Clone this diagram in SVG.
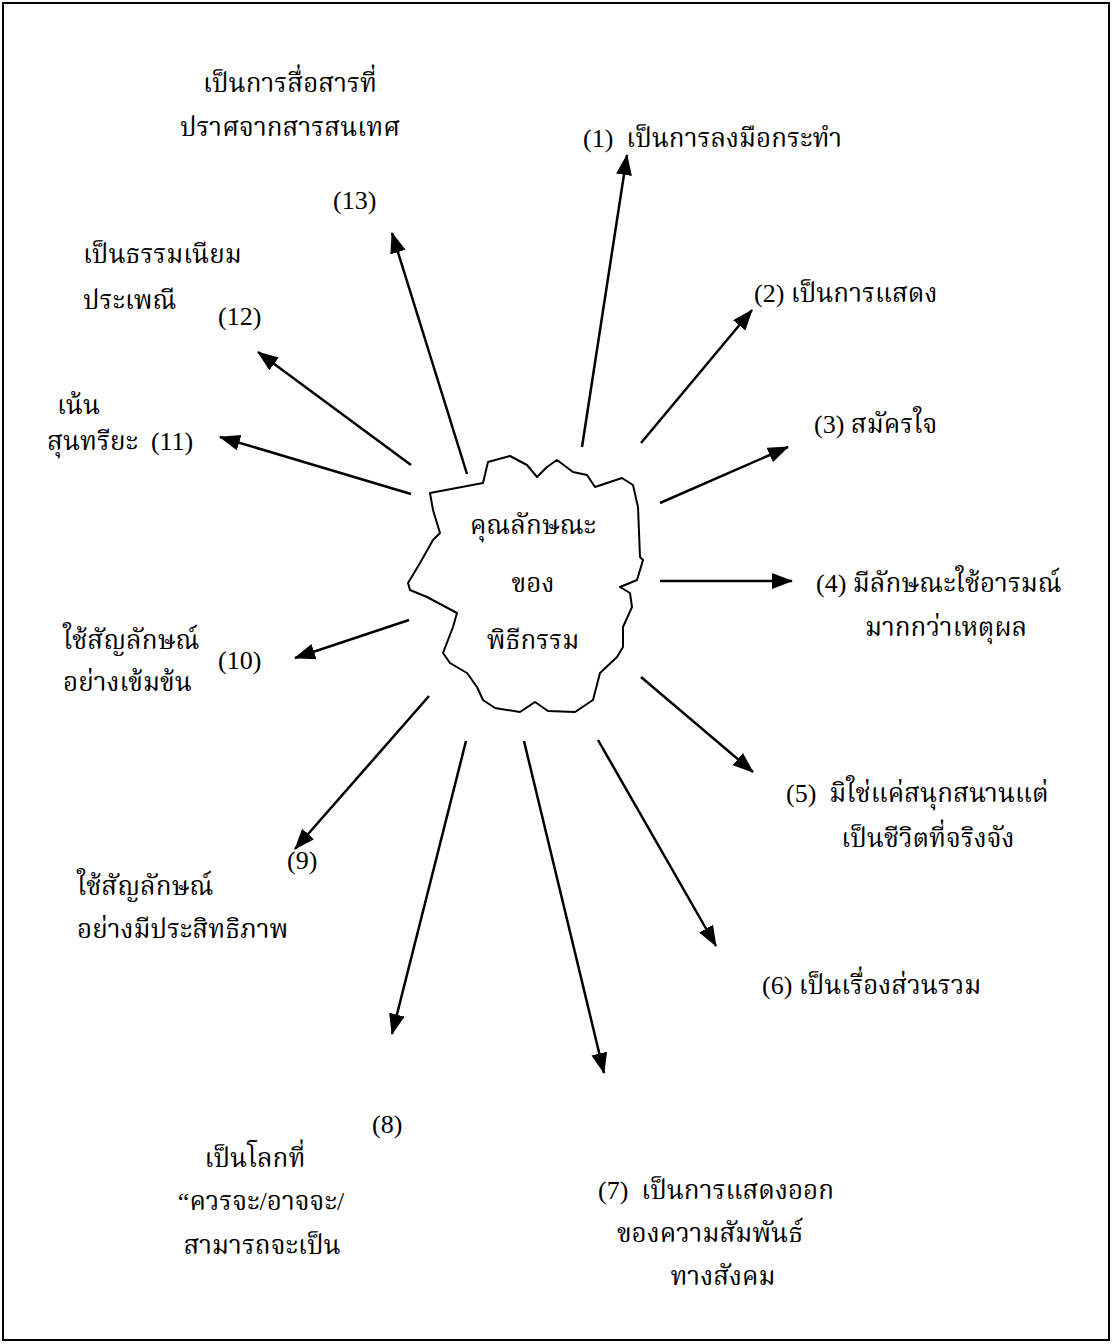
<svg xmlns="http://www.w3.org/2000/svg" width="1113" height="1344" viewBox="0 0 1113 1344">
<style>
text{font-family:"Liberation Serif","Noto Serif Thai","Noto Sans Thai",serif;font-size:26px;fill:#000;white-space:pre}
.c{stroke:#000;stroke-width:2.5;fill:none}
</style>
<defs>
<marker id="ah" markerUnits="userSpaceOnUse" markerWidth="24" markerHeight="18" refX="20" refY="8" orient="auto">
<path d="M0,0 L21,8 L0,16 Z" fill="#000"/>
</marker>
</defs>
<rect x="3" y="3" width="1106" height="1337" fill="#fff" stroke="#000" stroke-width="2"/>
<g id="connectors">
<line class="c" x1="582" y1="447" x2="627" y2="155" marker-end="url(#ah)"/>
<line class="c" x1="641" y1="443" x2="752" y2="310" marker-end="url(#ah)"/>
<line class="c" x1="660" y1="503" x2="788" y2="447" marker-end="url(#ah)"/>
<line class="c" x1="660" y1="581" x2="792" y2="581" marker-end="url(#ah)"/>
<line class="c" x1="641" y1="677" x2="753" y2="772" marker-end="url(#ah)"/>
<line class="c" x1="598" y1="740" x2="716" y2="946" marker-end="url(#ah)"/>
<line class="c" x1="524" y1="741" x2="604" y2="1073" marker-end="url(#ah)"/>
<line class="c" x1="466" y1="741" x2="392" y2="1034" marker-end="url(#ah)"/>
<line class="c" x1="429" y1="696" x2="295" y2="849" marker-end="url(#ah)"/>
<line class="c" x1="409" y1="620" x2="295" y2="658" marker-end="url(#ah)"/>
<line class="c" x1="411" y1="494" x2="220" y2="437" marker-end="url(#ah)"/>
<line class="c" x1="411" y1="465" x2="258" y2="352" marker-end="url(#ah)"/>
<line class="c" x1="467" y1="474" x2="392" y2="233" marker-end="url(#ah)"/>
</g>
<g id="center">
<path d="M430,493 L483,483 L488,462 L510,456 L527,465 L537,477 L547,467 L557,460 L573,472 L587,475 L595,487 L622,478 L633,485 L638,507 L640,557 L643,560 L637,580 L620,587 L630,593 L632,607 L623,627 L623,647 L617,657 L600,673 L593,700 L575,712 L548,711 L535,702 L520,712 L495,708 L483,700 L477,687 L467,673 L450,663 L443,653 L453,627 L457,613 L427,597 L410,590 L408,583 L420,563 L433,540 L440,533 L433,510 Z" fill="#fff" stroke="#000" stroke-width="2" stroke-linejoin="round"/>
<text x="533" y="534" text-anchor="middle">คุณลักษณะ</text>
<text x="533" y="592" text-anchor="middle">ของ</text>
<text x="533" y="649" text-anchor="middle">พิธีกรรม</text>
</g>
<g id="n13">
<text x="290" y="92" text-anchor="middle">เป็นการสื่อสารที่</text>
<text x="290" y="136" text-anchor="middle">ปราศจากสารสนเทศ</text>
<text x="333" y="209">(13)</text>
</g>
<g id="n1"><text x="583" y="147">(1)  เป็นการลงมือกระทำ</text></g>
<g id="n2"><text x="754" y="302">(2) เป็นการแสดง</text></g>
<g id="n3"><text x="814" y="433">(3) สมัครใจ</text></g>
<g id="n4">
<text x="816" y="592">(4) มีลักษณะใช้อารมณ์</text>
<text x="946" y="636" text-anchor="middle">มากกว่าเหตุผล</text>
</g>
<g id="n5">
<text x="786" y="802">(5)  มิใช่แค่สนุกสนานแต่</text>
<text x="928" y="847" text-anchor="middle">เป็นชีวิตที่จริงจัง</text>
</g>
<g id="n6"><text x="762" y="994">(6) เป็นเรื่องส่วนรวม</text></g>
<g id="n7">
<text x="598" y="1199">(7)  เป็นการแสดงออก</text>
<text x="710" y="1242" text-anchor="middle">ของความสัมพันธ์</text>
<text x="723" y="1285" text-anchor="middle">ทางสังคม</text>
</g>
<g id="n8">
<text x="372" y="1133">(8)</text>
<text x="255" y="1167" text-anchor="middle">เป็นโลกที่</text>
<text x="261" y="1210" text-anchor="middle">“ควรจะ/อาจจะ/</text>
<text x="262" y="1254" text-anchor="middle">สามารถจะเป็น</text>
</g>
<g id="n9">
<text x="287" y="869">(9)</text>
<text x="77" y="895">ใช้สัญลักษณ์</text>
<text x="77" y="938">อย่างมีประสิทธิภาพ</text>
</g>
<g id="n10">
<text x="63" y="649">ใช้สัญลักษณ์</text>
<text x="63" y="691">อย่างเข้มข้น</text>
<text x="218" y="669">(10)</text>
</g>
<g id="n11">
<text x="57" y="414">เน้น</text>
<text x="47" y="450">สุนทรียะ  (11)</text>
</g>
<g id="n12">
<text x="83" y="263">เป็นธรรมเนียม</text>
<text x="83" y="309">ประเพณี</text>
<text x="218" y="325">(12)</text>
</g>
</svg>
